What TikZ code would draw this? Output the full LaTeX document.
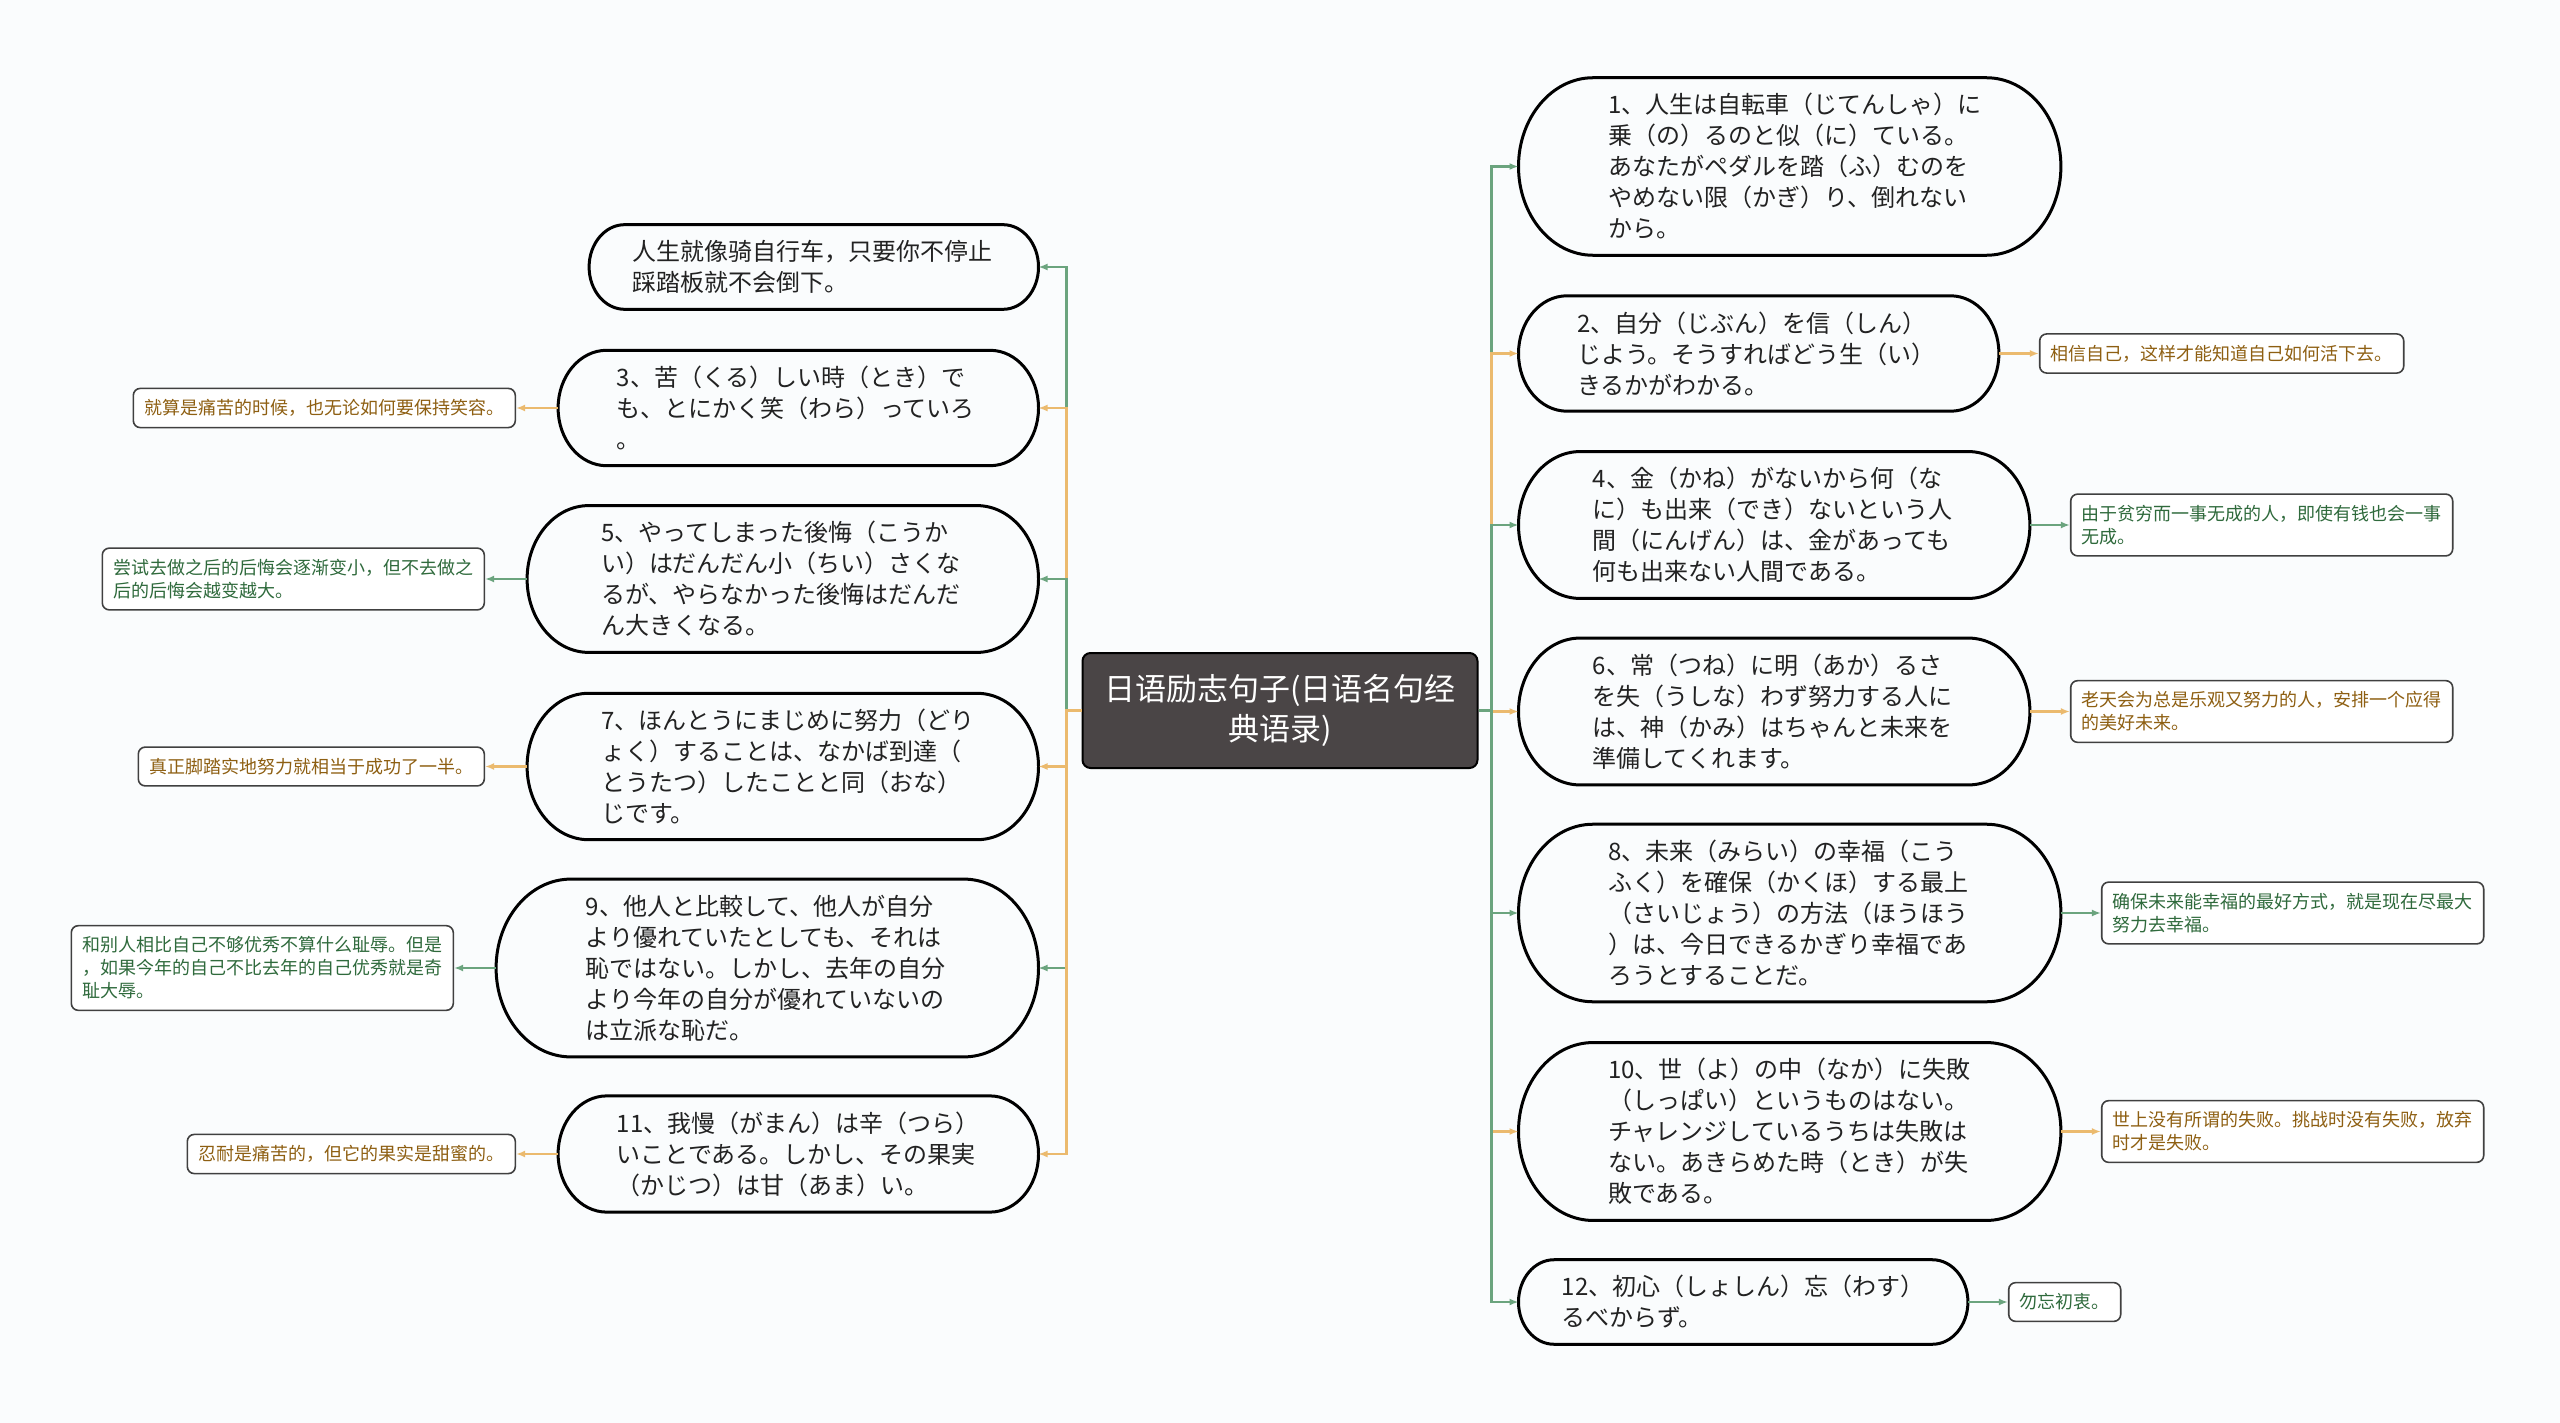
\documentclass[tikz,border=0pt]{standalone}
\usepackage{fontspec}
\usetikzlibrary{positioning,arrows.meta,calc}
\newfontfamily\jpfont{Noto Sans CJK JP}
\newfontfamily\scfont{Noto Sans CJK SC}

\definecolor{pagebg}{HTML}{FAFCFD}
\definecolor{titlegray}{HTML}{4A4546}
\definecolor{branchgreen}{HTML}{6BA47E}
\definecolor{branchorange}{HTML}{EBBA6E}
\definecolor{notegreen}{HTML}{2F6A3C}
\definecolor{noteorange}{HTML}{8E5F12}
\definecolor{maintext}{HTML}{222222}

\tikzset{
    mainbox/.style={text=maintext, font=\jpfont\fontsize{24}{31}\selectfont, text width=363pt,
        align=left, inner ysep=15.5pt, inner xsep=#1},
    cnbox/.style={mainbox=#1, font=\scfont\fontsize{24}{31}\selectfont},
    pillline/.style={draw=black, line width=3pt},
    notebox/.style={draw=black!75, line width=1.6pt, rounded corners=7pt, fill=white,
        font=\scfont\fontsize{18}{23}\selectfont, align=left, inner xsep=11pt, inner ysep=11pt},
    greennote/.style={notebox, text=notegreen},
    orangenote/.style={notebox, text=noteorange},
    greenarrow/.style={draw=branchgreen, line width=2.5pt, -{Latex[length=9pt,width=7pt]}},
    orangearrow/.style={draw=branchorange, line width=2.5pt, -{Latex[length=9pt,width=7pt]}},
}

\begin{document}
\begin{tikzpicture}
    \path [use as bounding box, fill=pagebg] (0,0) rectangle (2560pt,-1423pt);

    \node [fill=titlegray, draw=black, line width=2pt, rounded corners=8pt, text=white,
        font=\scfont\fontsize{31}{40}\selectfont, align=center,
        minimum width=395pt, minimum height=115pt] (center) at (1280pt,-710.5pt)
        {日语励志句子(日语名句经\\典语录)};

    \node [mainbox=89.5pt, right=40pt of center, yshift=544pt] (r1)
        {1、人生は自転車（じてんしゃ）に\\乗（の）るのと似（に）ている。\\あなたがペダルを踏（ふ）むのを\\やめない限（かぎ）り、倒れない\\から。};
    \node [mainbox=58.5pt, right=40pt of center, yshift=357pt] (r2)
        {2、自分（じぶん）を信（しん）\\じよう。そうすればどう生（い）\\きるかがわかる。};
    \node [mainbox=74pt, right=40pt of center, yshift=185.5pt] (r4)
        {4、金（かね）がないから何（な\\に）も出来（でき）ないという人\\間（にんげん）は、金があっても\\何も出来ない人間である。};
    \node [mainbox=74pt, right=40pt of center, yshift=-1pt] (r6)
        {6、常（つね）に明（あか）るさ\\を失（うしな）わず努力する人に\\は、神（かみ）はちゃんと未来を\\準備してくれます。};
    \node [mainbox=89.5pt, right=40pt of center, yshift=-202.5pt] (r8)
        {8、未来（みらい）の幸福（こう\\ふく）を確保（かくほ）する最上\\（さいじょう）の方法（ほうほう\\）は、今日できるかぎり幸福であ\\ろうとすることだ。};
    \node [mainbox=89.5pt, right=40pt of center, yshift=-421pt] (r10)
        {10、世（よ）の中（なか）に失敗\\（しっぱい）というものはない。\\チャレンジしているうちは失敗は\\ない。あきらめた時（とき）が失\\敗である。};
    \node [mainbox=43pt, right=40pt of center, yshift=-591.5pt] (r12)
        {12、初心（しょしん）忘（わす）\\るべからず。};

    \node [cnbox=43pt, left=43pt of center, yshift=443.5pt] (l1)
        {人生就像骑自行车，只要你不停止\\踩踏板就不会倒下。};
    \node [mainbox=58.5pt, left=43pt of center, yshift=302.5pt] (l3)
        {3、苦（くる）しい時（とき）で\\も、とにかく笑（わら）っていろ\\。};
    \node [mainbox=74pt, left=43pt of center, yshift=131.5pt] (l5)
        {5、やってしまった後悔（こうか\\い）はだんだん小（ちい）さくな\\るが、やらなかった後悔はだんだ\\ん大きくなる。};
    \node [mainbox=74pt, left=43pt of center, yshift=-56pt] (l7)
        {7、ほんとうにまじめに努力（どり\\ょく）することは、なかば到達（\\とうたつ）したことと同（おな）\\じです。};
    \node [mainbox=89.5pt, left=43pt of center, yshift=-257.5pt] (l9)
        {9、他人と比較して、他人が自分\\より優れていたとしても、それは\\恥ではない。しかし、去年の自分\\より今年の自分が優れていないの\\は立派な恥だ。};
    \node [mainbox=58.5pt, left=43pt of center, yshift=-443.5pt] (l11)
        {11、我慢（がまん）は辛（つら）\\いことである。しかし、その果実\\（かじつ）は甘（あま）い。};

    \foreach \nd in {r1,r2,r4,r6,r8,r10,r12,l1,l3,l5,l7,l9,l11}
        \draw [pillline] let \p1=(\nd.north west), \p2=(\nd.south east),
            \n1={0.42*(\y1-\y2)}, \n2={0.5*(\y1-\y2)} in
            (\x1+\n1,\y1) -- (\x2-\n1,\y1)
            arc [start angle=90, end angle=-90, x radius=\n1, y radius=\n2]
            -- (\x1+\n1,\y2)
            arc [start angle=270, end angle=90, x radius=\n1, y radius=\n2] -- cycle;

    \node [orangenote, right=40pt of r2] (n2) {相信自己，这样才能知道自己如何活下去。};
    \node [greennote, right=40pt of r4] (n4) {由于贫穷而一事无成的人，即使有钱也会一事\\无成。};
    \node [orangenote, right=40pt of r6] (n6) {老天会为总是乐观又努力的人，安排一个应得\\的美好未来。};
    \node [greennote, right=40pt of r8] (n8) {确保未来能幸福的最好方式，就是现在尽最大\\努力去幸福。};
    \node [orangenote, right=40pt of r10] (n10) {世上没有所谓的失败。挑战时没有失败，放弃\\时才是失败。};
    \node [greennote, right=40pt of r12] (n12) {勿忘初衷。};

    \node [orangenote, left=42pt of l3] (n3) {就算是痛苦的时候，也无论如何要保持笑容。};
    \node [greennote, left=42pt of l5] (n5) {尝试去做之后的后悔会逐渐变小，但不去做之\\后的后悔会越变越大。};
    \node [orangenote, left=42pt of l7] (n7) {真正脚踏实地努力就相当于成功了一半。};
    \node [greennote, left=42pt of l9] (n9) {和别人相比自己不够优秀不算什么耻辱。但是\\，如果今年的自己不比去年的自己优秀就是奇\\耻大辱。};
    \node [orangenote, left=42pt of l11] (n11) {忍耐是痛苦的，但它的果实是甜蜜的。};

    \draw [greenarrow] (center.east) -- ++(13pt,0) |- (r1.west);
    \draw [orangearrow] (center.east) -- ++(13pt,0) |- (r2.west);
    \draw [greenarrow] (center.east) -- ++(13pt,0) |- (r4.west);
    \draw [orangearrow] (center.east) -- ++(13pt,0) |- (r6.west);
    \draw [greenarrow] (center.east) -- ++(13pt,0) |- (r8.west);
    \draw [orangearrow] (center.east) -- ++(13pt,0) |- (r10.west);
    \draw [greenarrow] (center.east) -- ++(13pt,0) |- (r12.west);

    \draw [greenarrow] (center.west) -- ++(-15pt,0) |- (l1.east);
    \draw [orangearrow] (center.west) -- ++(-15pt,0) |- (l3.east);
    \draw [greenarrow] (center.west) -- ++(-15pt,0) |- (l5.east);
    \draw [orangearrow] (center.west) -- ++(-15pt,0) |- (l7.east);
    \draw [greenarrow] (center.west) -- ++(-15pt,0) |- (l9.east);
    \draw [orangearrow] (center.west) -- ++(-15pt,0) |- (l11.east);

    \draw [orangearrow] (r2) -- (n2);
    \draw [greenarrow] (r4) -- (n4);
    \draw [orangearrow] (r6) -- (n6);
    \draw [greenarrow] (r8) -- (n8);
    \draw [orangearrow] (r10) -- (n10);
    \draw [greenarrow] (r12) -- (n12);
    \draw [orangearrow] (l3) -- (n3);
    \draw [greenarrow] (l5) -- (n5);
    \draw [orangearrow] (l7) -- (n7);
    \draw [greenarrow] (l9) -- (n9);
    \draw [orangearrow] (l11) -- (n11);
\end{tikzpicture}
\end{document}
